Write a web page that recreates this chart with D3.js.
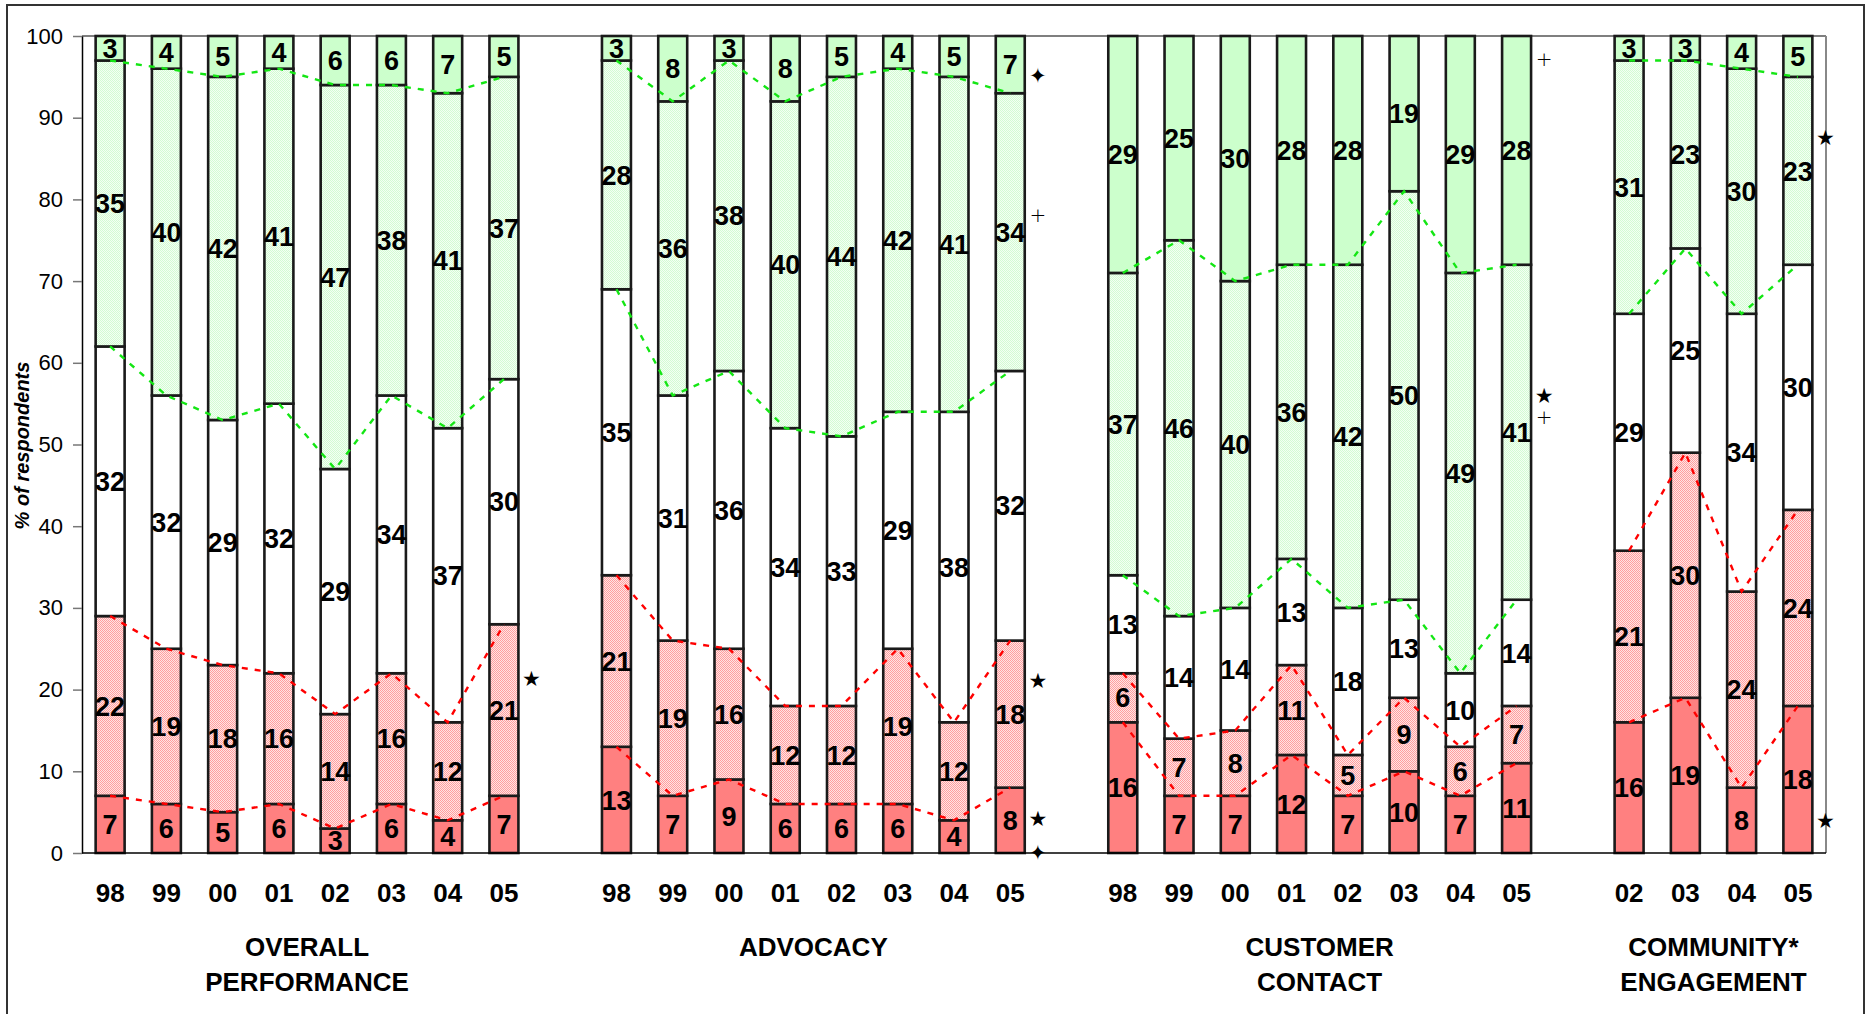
<!DOCTYPE html>
<html>
<head>
<meta charset="utf-8">
<script src="https://cdn.jsdelivr.net/npm/d3@7"></script>
<style>
  html, body { margin: 0; padding: 0; background: #ffffff; }
  svg { display: block; }
</style>
</head>
<body>
<script>
// ---------------- DATA ----------------
const groupNames = [["OVERALL", "PERFORMANCE"], ["ADVOCACY"], ["CUSTOMER", "CONTACT"], ["COMMUNITY*", "ENGAGEMENT"]];
const groupYears = [
  ["98", "99", "00", "01", "02", "03", "04", "05"],
  ["98", "99", "00", "01", "02", "03", "04", "05"],
  ["98", "99", "00", "01", "02", "03", "04", "05"],
  ["02", "03", "04", "05"]
];
const yTicks = [0, 10, 20, 30, 40, 50, 60, 70, 80, 90, 100];
const yTitle = "% of respondents";

// segment labels (%), bottom to top, in bar order (28 bars)
const veryNegative = [7, 6, 5, 6, 3, 6, 4, 7,   13, 7, 9, 6, 6, 6, 4, 8,   16, 7, 7, 12, 7, 10, 7, 11,   16, 19, 8, 18];
const negative     = [22, 19, 18, 16, 14, 16, 12, 21,   21, 19, 16, 12, 12, 19, 12, 18,   6, 7, 8, 11, 5, 9, 6, 7,   21, 30, 24, 24];
const neutral      = [32, 32, 29, 32, 29, 34, 37, 30,   35, 31, 36, 34, 33, 29, 38, 32,   13, 14, 14, 13, 18, 13, 10, 14,   29, 25, 34, 30];
const positive     = [35, 40, 42, 41, 47, 38, 41, 37,   28, 36, 38, 40, 44, 42, 41, 34,   37, 46, 40, 36, 42, 50, 49, 41,   31, 23, 30, 23];
const veryPositive = [3, 4, 5, 4, 6, 6, 7, 5,   3, 8, 3, 8, 5, 4, 5, 7,   29, 25, 30, 28, 28, 19, 29, 28,   3, 3, 4, 5];

// cumulative tops of each segment (unrounded data)
const cumVeryNegative = [7, 6, 5, 6, 3, 6, 4, 7,   13, 7, 9, 6, 6, 6, 4, 8,   16, 7, 7, 12, 7, 10, 7, 11,   16, 19, 8, 18];
const cumNegative     = [29, 25, 23, 22, 17, 22, 16, 28,   34, 26, 25, 18, 18, 25, 16, 26,   22, 14, 15, 23, 12, 19, 13, 18,   37, 49, 32, 42];
const cumNeutral      = [62, 56, 53, 55, 47, 56, 52, 58,   69, 56, 59, 52, 51, 54, 54, 59,   34, 29, 30, 36, 30, 31, 22, 31,   66, 74, 66, 72];
const cumPositive     = [97, 96, 95, 96, 94, 94, 93, 95,   97, 92, 97, 92, 95, 96, 95, 93,   71, 75, 70, 72, 72, 81, 71, 72,   97, 97, 96, 95];

// significance markers placed right of the last bar of a group
const noteGroup  = [0, 1, 1, 1, 1, 1, 2, 2, 2, 3, 3];
const noteSymbol = ["★", "✦", "+", "★", "★", "✦", "+", "★", "+", "★", "★"];
const noteValue  = [21.4, 95.1, 78.1, 21.1, 4.2, 0.1, 97.2, 56.0, 53.4, 87.6, 4.0];

// ---------------- LAYOUT ----------------
const W = 1866, H = 1014;
const plot = { left: 82, right: 1826, top: 36, bottom: 853 };
const FONT = "'Liberation Sans', Arial, Helvetica, sans-serif";

const svg = d3.select("body").append("svg").attr("width", W).attr("height", H);

const defs = svg.append("defs");
function checker(id, base, dot) {
  const p = defs.append("pattern").attr("id", id).attr("patternUnits", "userSpaceOnUse")
    .attr("width", 2).attr("height", 2);
  p.append("rect").attr("width", 2).attr("height", 2).attr("fill", base);
  p.append("rect").attr("x", 0).attr("y", 0).attr("width", 1).attr("height", 1).attr("fill", dot);
  p.append("rect").attr("x", 1).attr("y", 1).attr("width", 1).attr("height", 1).attr("fill", dot);
}
checker("pinkHatch", "#ffe4e4", "#ff9f9f");
checker("greenHatch", "#f3fff3", "#d3fbd3");

// outer frame
svg.append("rect").attr("x", 7).attr("y", 5).attr("width", 1857).attr("height", 1030)
  .attr("fill", "none").attr("stroke", "#333").attr("stroke-width", 2);

// slots: bars plus one empty slot between groups
const slots = [];
const bars = [];
groupYears.forEach((ys, g) => {
  if (g > 0) slots.push("gap" + g);
  ys.forEach((yr, i) => {
    const key = g + "-" + yr;
    slots.push(key);
    bars.push({ key, g, yr });
  });
});
bars.forEach((b, i) => {
  b.vals = [veryNegative[i], negative[i], neutral[i], positive[i], veryPositive[i]];
  b.bounds = [0, cumVeryNegative[i], cumNegative[i], cumNeutral[i], cumPositive[i], 100];
});

const x = d3.scaleBand().domain(slots).range([plot.left, plot.right])
  .paddingInner(0.485).paddingOuter(0.2425);
const y = d3.scaleLinear().domain([0, 100]).range([plot.bottom, plot.top]);
const cx = k => x(k) + x.bandwidth() / 2;

// plot border (top + right)
svg.append("line").attr("x1", plot.left).attr("x2", plot.right).attr("y1", plot.top).attr("y2", plot.top)
  .attr("stroke", "#555").attr("stroke-width", 1.5);
svg.append("line").attr("x1", plot.right).attr("x2", plot.right).attr("y1", plot.top).attr("y2", plot.bottom)
  .attr("stroke", "#888").attr("stroke-width", 2);

// y axis
const yAxis = svg.append("g").attr("transform", `translate(${plot.left},0)`)
  .call(d3.axisLeft(y).tickValues(yTicks).tickSizeInner(9).tickSizeOuter(0).tickPadding(10));
yAxis.select(".domain").attr("stroke", "#000").attr("stroke-width", 1.5);
yAxis.selectAll(".tick line").attr("stroke", "#777").attr("stroke-width", 1.5);
yAxis.selectAll(".tick text").attr("font-family", FONT).attr("font-size", 22).attr("fill", "#000");

svg.append("text")
  .attr("transform", `translate(29,${(plot.top + plot.bottom) / 2 + 1}) rotate(-90)`)
  .attr("text-anchor", "middle").attr("font-family", FONT).attr("font-size", 20)
  .attr("font-weight", "bold").attr("font-style", "italic").text(yTitle);

// bars
const fills = ["#ff8080", "url(#pinkHatch)", "#ffffff", "url(#greenHatch)", "#ccffcc"];
const barG = svg.append("g");
bars.forEach(b => {
  for (let s = 0; s < 5; s++) {
    barG.append("rect")
      .attr("x", x(b.key)).attr("width", x.bandwidth())
      .attr("y", y(b.bounds[s + 1])).attr("height", y(b.bounds[s]) - y(b.bounds[s + 1]))
      .attr("fill", fills[s]).attr("stroke", "#1a1a1a").attr("stroke-width", 2.6);
  }
});

// x axis line
svg.append("line").attr("x1", plot.left).attr("x2", plot.right).attr("y1", plot.bottom).attr("y2", plot.bottom)
  .attr("stroke", "#000").attr("stroke-width", 1.5);

// dashed series lines connecting segment boundaries within each group
const lineColors = ["#ff0000", "#ff0000", "#14e614", "#14e614"];
const lineGen = d3.line().x(d => d[0]).y(d => d[1]);
groupYears.forEach((ys, g) => {
  const gb = bars.filter(b => b.g === g);
  for (let k = 1; k <= 4; k++) {
    svg.append("path")
      .attr("d", lineGen(gb.map(b => [cx(b.key), y(b.bounds[k])])))
      .attr("fill", "none").attr("stroke", lineColors[k - 1]).attr("stroke-width", 2.4)
      .attr("stroke-dasharray", "6,7");
  }
});

// value labels
const labG = svg.append("g").attr("font-family", FONT).attr("font-weight", "bold")
  .attr("font-size", 27).attr("text-anchor", "middle").attr("fill", "#000");
bars.forEach(b => {
  for (let s = 0; s < 5; s++) {
    const mid = (b.bounds[s] + b.bounds[s + 1]) / 2;
    labG.append("text").attr("x", cx(b.key)).attr("y", y(mid)).attr("dy", "0.36em")
      .text(b.vals[s]);
  }
});

// x axis year labels
const xAxis = svg.append("g").attr("transform", `translate(0,${plot.bottom})`)
  .call(d3.axisBottom(x).tickValues(bars.map(b => b.key))
    .tickFormat(k => k.split("-")[1]).tickSize(0).tickPadding(31));
xAxis.select(".domain").remove();
xAxis.selectAll(".tick text").attr("font-family", FONT).attr("font-size", 26)
  .attr("font-weight", "bold").attr("fill", "#000");

// group titles
groupNames.forEach((lines, g) => {
  const gb = bars.filter(b => b.g === g);
  const mx = (cx(gb[0].key) + cx(gb[gb.length - 1].key)) / 2;
  const t = svg.append("text").attr("text-anchor", "middle").attr("font-family", FONT)
    .attr("font-size", 26).attr("font-weight", "bold").attr("fill", "#000");
  lines.forEach((ln, i) => {
    t.append("tspan").attr("x", mx).attr("y", 956 + i * 35).text(ln);
  });
});

// significance markers
noteSymbol.forEach((sym, i) => {
  const gb = bars.filter(b => b.g === noteGroup[i]);
  const last = gb[gb.length - 1];
  const isCross = sym === "+";
  svg.append("text")
    .attr("x", cx(last.key) + x.step() * 0.49)
    .attr("y", y(noteValue[i]))
    .attr("dy", "0.35em")
    .attr("text-anchor", "middle")
    .attr("font-family", isCross ? "'DejaVu Sans', sans-serif" : "'DejaVu Sans', sans-serif")
    .attr("font-weight", isCross ? 200 : "normal")
    .attr("font-size", isCross ? 20 : 21)
    .attr("fill", "#000")
    .text(sym);
});
</script>
</body>
</html>
